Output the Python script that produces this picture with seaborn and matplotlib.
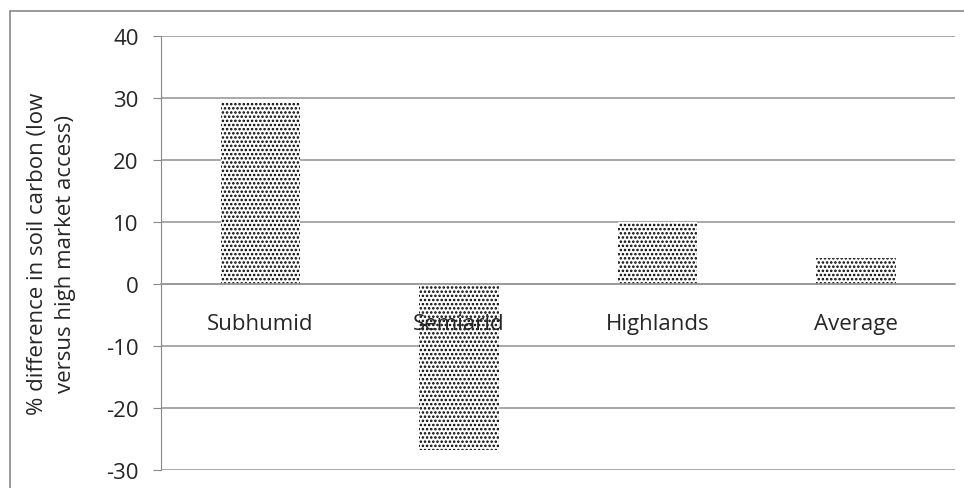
import numpy as np
import pandas as pd
import seaborn as sns
import matplotlib.pyplot as plt
from matplotlib.patches import Rectangle

regions = ["Subhumid", "Semiarid", "Highlands", "Average"]
carbon_diff = [29.4, -26.8, 10.0, 4.2]
y_ticks = [-30, -20, -10, 0, 10, 20, 30, 40]

df = pd.DataFrame({"region": regions, "diff": carbon_diff})

sns.set_style("white")
plt.rcParams["font.family"] = ["Open Sans", "DejaVu Sans"]
plt.rcParams["hatch.linewidth"] = 1.2

fig = plt.figure(figsize=(9.64, 4.89), dpi=100)
ax = fig.add_axes([0.167, 0.037, 0.824, 0.887])

sns.barplot(data=df, x="region", y="diff", color="white", width=0.4,
            edgecolor="black", linewidth=0, ax=ax)
for p in ax.patches:
    p.set_hatch("....")

ax.set_ylim(-30, 40)
ax.set_xlim(-0.5, 3.5)
ax.set_yticks(y_ticks)
ax.set_yticklabels([str(t) for t in y_ticks], fontsize=16)
ax.yaxis.grid(True, color="#999999", linewidth=1.2)
ax.set_axisbelow(True)

# category axis sits on zero, labels just below it (drawn over the bars)
for s in ["top", "right"]:
    ax.spines[s].set_visible(False)
ax.spines["bottom"].set_position(("data", 0))
ax.spines["bottom"].set_color("#999999")
ax.spines["bottom"].set_linewidth(1.2)
ax.spines["left"].set_color("#888888")
ax.set_xticks(range(len(regions)))
ax.set_xticklabels([])
ax.tick_params(axis="x", which="major", length=0)
ax.set_xticks(np.arange(-0.5, 4, 1), minor=True)
ax.tick_params(axis="x", which="minor", length=7, color="#888888", direction="out")
ax.tick_params(axis="y", length=6, color="#888888", direction="out", left=True, pad=10)
for i, name in enumerate(regions):
    ax.annotate(name, (i, 0), xytext=(0, -29), textcoords="offset pixels",
                ha="center", va="top", fontsize=16, zorder=5)

ax.set_xlabel("")
ax.set_ylabel("% difference in soil carbon (low\nversus high market access)", fontsize=16,
              labelpad=22, linespacing=1.4)

fig.patches.append(Rectangle((0.0105, -0.05), 1.1, 1.026, transform=fig.transFigure,
                             fill=False, edgecolor="#888888", linewidth=1.2))

fig.savefig("out.png", dpi=100)
